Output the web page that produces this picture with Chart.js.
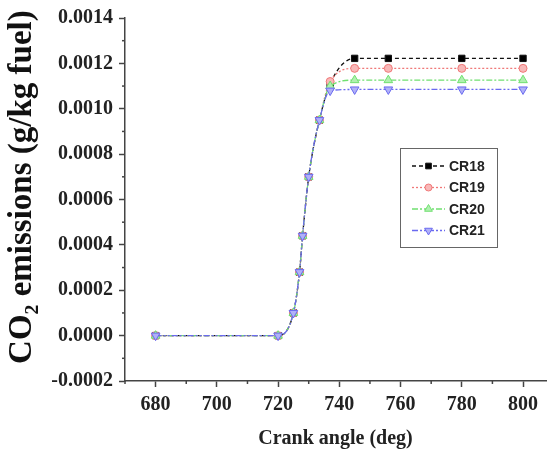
<!DOCTYPE html>
<html><head><meta charset="utf-8">
<script src="https://cdn.jsdelivr.net/npm/chart.js@4"></script>
<style>html,body{margin:0;padding:0;background:#fff}#wrap{width:552px;height:452px}</style>
</head><body><div id="wrap"><canvas id="c" width="552" height="452"></canvas></div>
<script>
const crankAngle = [680, 720, 725, 727, 728, 730, 733.5, 737, 745, 756, 780, 800];
const cr18 = [0, 0, 0.0001, 0.00028, 0.00044, 0.0007, 0.00095, 0.00111, 0.001222, 0.001222, 0.001222, 0.001222];
const cr19 = [0, 0, 0.0001, 0.00028, 0.00044, 0.0007, 0.00095, 0.00112, 0.001178, 0.001178, 0.001178, 0.001178];
const cr20 = [0, 0, 0.0001, 0.00028, 0.00044, 0.0007, 0.00095, 0.00110, 0.001126, 0.001126, 0.001126, 0.001126];
const cr21 = [0, 0, 0.0001, 0.00028, 0.00044, 0.0007, 0.00095, 0.00108, 0.001085, 0.001085, 0.001085, 0.001085];
const seriesNames = ['CR18', 'CR19', 'CR20', 'CR21'];
const xTickValues = [680, 700, 720, 740, 760, 780, 800];
const yTickValues = [-0.0002, 0, 0.0002, 0.0004, 0.0006, 0.0008, 0.0010, 0.0012, 0.0014];

const seriesValues = [cr18, cr19, cr20, cr21];
const styles = [
  {color:'#111111', fill:'#000000', dash:[4,3], point:'rect', radius:4.5, rot:0},
  {color:'#f07878', fill:'#f8b8b8', dash:[2,2], point:'circle', radius:4, rot:0},
  {color:'#70e070', fill:'#b0f0b0', dash:[6,2,2,2], point:'triangle', radius:5, rot:0},
  {color:'#6a6af0', fill:'#b0b0f8', dash:[6,2,2,2,2,2], point:'triangle', radius:5, rot:180}
];

const datasets = seriesNames.map((name, i) => ({
  label: name,
  data: crankAngle.map((a, j) => ({x: a, y: seriesValues[i][j]})),
  order: 3 - i,
  borderColor: styles[i].color,
  backgroundColor: styles[i].fill,
  borderWidth: 1.3,
  borderDash: styles[i].dash,
  pointStyle: styles[i].point,
  pointRotation: styles[i].rot,
  pointRadius: styles[i].radius,
  pointBorderColor: styles[i].color,
  pointBorderWidth: 1,
  cubicInterpolationMode: 'monotone',
  fill: false
}));

const axisColor = '#444';
const tickFont = {family: '"Liberation Serif", "Times New Roman", serif', size: 20, weight: 'bold'};

function midpoints(arr) {
  const out = [];
  for (let i = 0; i < arr.length - 1; i++) out.push((arr[i] + arr[i+1]) / 2);
  return out;
}

const minorTicks = {
  id: 'minorTicks',
  afterDraw(chart) {
    const ctx = chart.ctx;
    const xs = chart.scales.x, ys = chart.scales.y;
    ctx.save();
    ctx.strokeStyle = axisColor;
    ctx.lineWidth = 1.5;
    const xm = [xTickValues[0] - 10].concat(midpoints(xTickValues));
    xm.forEach(v => {
      const px = xs.getPixelForValue(v);
      ctx.beginPath(); ctx.moveTo(px, ys.bottom); ctx.lineTo(px, ys.bottom + 3); ctx.stroke();
    });
    midpoints(yTickValues).forEach(v => {
      const py = ys.getPixelForValue(v);
      ctx.beginPath(); ctx.moveTo(xs.left, py); ctx.lineTo(xs.left - 3, py); ctx.stroke();
    });
    ctx.restore();
  }
};

const boxLegend = {
  id: 'boxLegend',
  afterDraw(chart) {
    const ctx = chart.ctx;
    ctx.save();
    ctx.strokeStyle = '#666';
    ctx.lineWidth = 1;
    ctx.strokeRect(400.5, 148.5, 97, 99);
    ctx.font = 'bold 14px "Liberation Sans", Arial, sans-serif';
    ctx.textBaseline = 'middle';
    chart.data.datasets.forEach((ds, i) => {
      const y = 166 + i * 21.5;
      ctx.save();
      ctx.strokeStyle = ds.borderColor;
      ctx.lineWidth = 1.3;
      ctx.setLineDash(ds.borderDash);
      ctx.beginPath(); ctx.moveTo(412, y); ctx.lineTo(445, y); ctx.stroke();
      ctx.setLineDash([]);
      ctx.lineWidth = 1;
      ctx.fillStyle = ds.backgroundColor;
      ctx.strokeStyle = ds.borderColor;
      Chart.helpers.drawPoint(ctx, {pointStyle: ds.pointStyle, rotation: ds.pointRotation, radius: ds.pointRadius - 0.5, borderWidth: 1}, 428.5, y);
      ctx.restore();
      ctx.fillStyle = '#222';
      ctx.fillText(ds.label, 449, y + 1);
    });
    ctx.restore();
  }
};

new Chart(document.getElementById('c'), {
  type: 'line',
  data: {datasets},
  options: {
    responsive: false,
    animation: false,
    layout: {padding: {top: 18, right: 1, left: 0, bottom: 0}},
    plugins: {legend: {display: false}, tooltip: {enabled: false}},
    scales: {
      x: {
        type: 'linear', min: 670, max: 807.5,
        afterBuildTicks: s => { s.ticks = xTickValues.map(v => ({value: v})); },
        afterFit: s => { s.height = 71; },
        border: {display: true, color: axisColor, width: 1.5},
        grid: {drawOnChartArea: false, drawTicks: true, tickLength: 6, tickColor: axisColor, tickWidth: 1.5},
        ticks: {font: tickFont, color: '#222', padding: 6, maxRotation: 0, autoSkip: false, callback: v => String(v)},
        title: {display: true, text: 'Crank angle (deg)', color: '#222',
          font: {family: '"Liberation Serif", "Times New Roman", serif', size: 20, weight: 'bold'}, padding: {top: 0, bottom: 1}}
      },
      y: {
        type: 'linear', min: -0.0002, max: 0.0014,
        afterBuildTicks: s => { s.ticks = yTickValues.map(v => ({value: v})); },
        afterFit: s => { s.width = 125; },
        border: {display: true, color: axisColor, width: 1.5},
        grid: {drawOnChartArea: false, drawTicks: true, tickLength: 6, tickColor: axisColor, tickWidth: 1.5},
        ticks: {font: tickFont, color: '#222', padding: 6, autoSkip: false, callback: v => v.toFixed(4)},
        title: {display: true, text: '   CO\u2082 emissions (g/kg fuel)', color: '#111',
          font: {family: '"Liberation Serif", "Times New Roman", serif', size: 33, weight: 'bold'}, padding: {top: 3, bottom: 0}}
      }
    }
  },
  plugins: [minorTicks, boxLegend]
});
</script>
</body></html>
